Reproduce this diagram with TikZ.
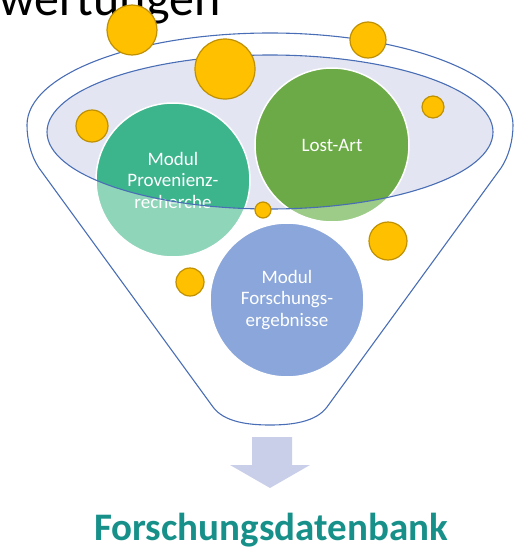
\documentclass[tikz,border=0pt]{standalone}
\usepackage{fontspec}
\setmainfont{Carlito}
\definecolor{funnelblue}{HTML}{4A6EB5}
\definecolor{ellfill}{HTML}{E3E6F2}
\definecolor{goldfill}{HTML}{FFC000}
\definecolor{golddraw}{HTML}{BF9000}
\definecolor{provdark}{HTML}{3DB58C}
\definecolor{provlight}{HTML}{8FD5BA}
\definecolor{lostdark}{HTML}{6BAA46}
\definecolor{lostlight}{HTML}{9DCB88}
\definecolor{modblue}{HTML}{8AA6DA}
\definecolor{arrowfill}{HTML}{C9CFE8}
\definecolor{dbteal}{HTML}{17908A}
\tikzset{
  bigcircle/.style={circle, minimum size=154pt, inner sep=0pt, draw=white, line width=1.5pt,
    text=white, align=center, font=\fontsize{19}{21.5}\selectfont},
  darkpart/.style={path picture={\fill[#1] (ellc) ellipse [x radius=223pt, y radius=77pt];}},
  ball/.style={circle, inner sep=0pt, minimum size=#1, fill=goldfill, draw=golddraw, line width=1.2pt},
  funnelline/.style={draw=funnelblue, line width=1.1pt}
}
\begin{document}
\begin{tikzpicture}[x=1pt, y=-1pt]
\useasboundingbox (0,0) rectangle (528,549);
\coordinate (ellc) at (270,132);
% title fragment
\node[anchor=base west, inner sep=0pt, font=\fontsize{50}{52}\selectfont] (title) at (-1,15) {wertungen};
% inner ellipse fill
\fill[ellfill] (ellc) ellipse [x radius=223pt, y radius=77pt];
% funnel outline
\draw[funnelline] (27,125) arc [start angle=180, end angle=0, x radius=243pt, y radius=92pt]
  .. controls (513,140) and (509,156) .. (501,168)
  -- (327,407) .. controls (316,422) and (292,425) .. (270,425)
  .. controls (248,425) and (224,422) .. (213,407)
  -- (39,168) .. controls (31,156) and (27,140) .. (27,125);
% module circles
\node[bigcircle, fill=provlight, darkpart=provdark] (prov) at (173,180) {Modul\\Provenienz-\\recherche};
\node[bigcircle, fill=lostlight, darkpart=lostdark] (lost) at (332,145) {Lost-Art};
\node[bigcircle, fill=modblue] (forsch) at (287,300) {Modul\\Forschungs-\\ergebnisse};
% inner ellipse outline
\draw[funnelline] (ellc) ellipse [x radius=223pt, y radius=77pt];
% yellow balls
\node[ball=50pt] (y1) at (132,30) {};
\node[ball=60pt] (y2) at (225,69) {};
\node[ball=36pt] (y3) at (368,40) {};
\node[ball=22pt] (y4) at (433,107) {};
\node[ball=32pt] (y5) at (92,126) {};
\node[ball=16pt] (y6) at (263,210) {};
\node[ball=38pt] (y7) at (388,241) {};
\node[ball=28pt] (y8) at (190,282) {};
% down arrow
\fill[arrowfill] (252,437) -- (292,437) -- (292,465) -- (310,465) -- (270,488) -- (230,465) -- (252,465) -- cycle;
% result
\node[font=\fontsize{39}{41}\selectfont\bfseries, text=dbteal, anchor=base, inner sep=0pt] (db) at (271,540) {Forschungsdatenbank};
\end{tikzpicture}
\end{document}
